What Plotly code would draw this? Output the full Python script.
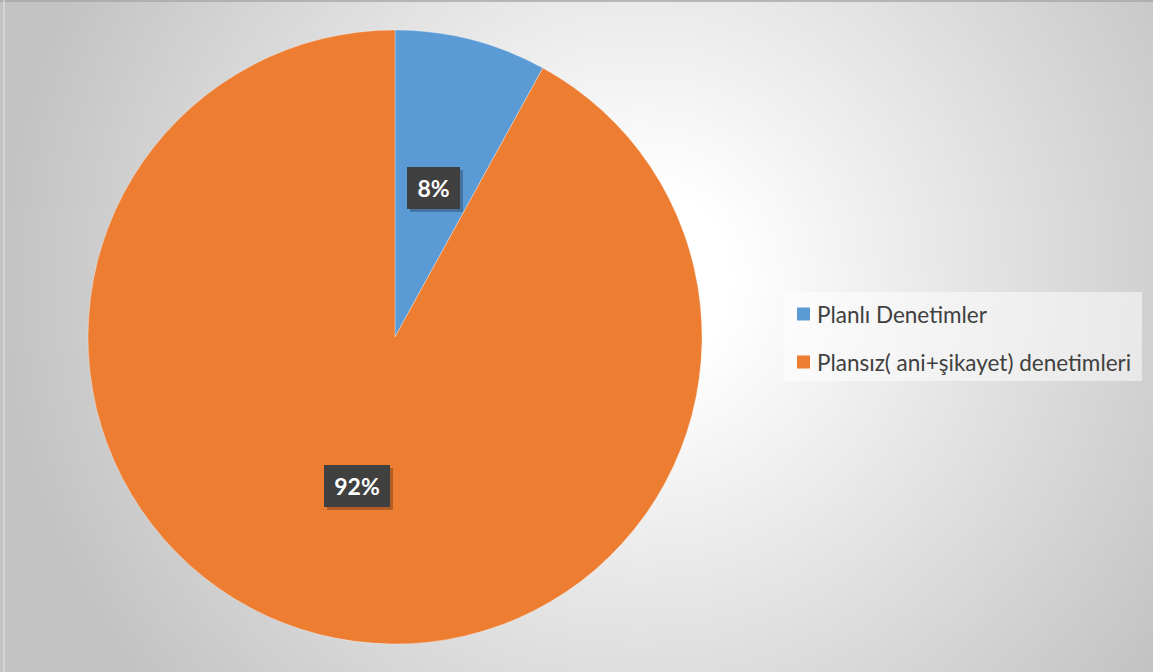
import numpy as np
import plotly.graph_objects as go

# --- data ---
categories = ["Planlı Denetimler", "Plansız( ani+şikayet) denetimleri"]
shares = [8, 92]
colors = ["#5B9BD5", "#ED7D31"]

W, H = 1153, 672

# pie geometry (pixels)
cx, cy, R = 395, 337, 307

fig = go.Figure()

# soft radial background wash
gx = np.linspace(0, W, 120)
gy = np.linspace(0, H, 72)
XX, YY = np.meshgrid(gx, gy)
dist = np.hypot(XX - 640, YY - 280)
shade = np.clip(255 - 0.11 * np.clip(dist - 90, 0, None), 195, 255)
fig.add_trace(go.Heatmap(
    x=gx, y=gy, z=shade, zmin=0, zmax=255, zsmooth="best",
    colorscale=[[0, "rgb(0,0,0)"], [1, "rgb(255,255,255)"]],
    showscale=False, hoverinfo="skip",
))

fig.add_trace(go.Pie(
    labels=categories,
    values=shares,
    sort=False,
    direction="clockwise",
    rotation=0,
    marker=dict(colors=colors, line=dict(color="rgba(255,255,255,0.6)", width=0.5)),
    textinfo="none",
    hoverinfo="label+percent",
    showlegend=False,
    domain=dict(x=[(cx - R) / W, (cx + R) / W], y=[1 - (cy + R) / H, 1 - (cy - R) / H]),
))

annotations = []
shapes = []

# percentage callouts at half radius along each slice's mid-angle
total = sum(shares)
cum = 0.0
for v in shares:
    frac = v / total
    mid = (cum + frac / 2) * 2 * np.pi
    cum += frac
    px = cx + 0.5 * R * np.sin(mid)
    py = cy - 0.5 * R * np.cos(mid)
    txt = f"{round(100 * frac)}%"
    bw = 53 if len(txt) <= 2 else 66
    common = dict(xref="paper", yref="paper", x=px / W, y=1 - py / H,
                  showarrow=False, width=bw, height=42, borderpad=0,
                  borderwidth=0, xanchor="center", yanchor="middle")
    annotations.append(dict(text="", bgcolor="rgba(0,0,0,0.25)",
                            xshift=3, yshift=-3, **common))
    annotations.append(dict(text=f"<b>{txt}</b>", bgcolor="#404040",
                            font=dict(family="Lato, Open Sans, sans-serif", size=23, color="white"),
                            **common))

# legend panel
lx0, lx1, ly0, ly1 = 784, 1142, 292, 381
shapes.append(dict(type="rect", xref="paper", yref="paper",
                   x0=lx0 / W, x1=lx1 / W, y0=1 - ly1 / H, y1=1 - ly0 / H,
                   fillcolor="rgba(255,255,255,0.5)", line=dict(width=0), layer="above"))
row_y = [314, 362]
for name, col, ry in zip(categories, colors, row_y):
    shapes.append(dict(type="rect", xref="paper", yref="paper",
                       x0=797 / W, x1=810 / W, y0=1 - (ry + 6.5) / H, y1=1 - (ry - 6.5) / H,
                       fillcolor=col, line=dict(width=0), layer="above"))
    annotations.append(dict(xref="paper", yref="paper", x=815 / W, y=1 - ry / H,
                            xanchor="left", yanchor="middle", showarrow=False,
                            text=name,
                            font=dict(family="Lato, Open Sans, sans-serif", size=22.5, color="#404040")))

# chart-area frame
shapes.append(dict(type="line", xref="paper", yref="paper", x0=0, x1=1,
                   y0=1 - 1 / H, y1=1 - 1 / H, line=dict(color="#a6a6a6", width=1.5)))
shapes.append(dict(type="line", xref="paper", yref="paper", x0=4 / W, x1=4 / W,
                   y0=0, y1=1, line=dict(color="#e8e8e8", width=1)))

fig.update_layout(
    width=W, height=H,
    margin=dict(l=0, r=0, t=0, b=0),
    paper_bgcolor="#d0d0d0",
    plot_bgcolor="rgba(0,0,0,0)",
    xaxis=dict(range=[0, W], domain=[0, 1], visible=False, fixedrange=True),
    yaxis=dict(range=[H, 0], domain=[0, 1], visible=False, fixedrange=True),
    annotations=annotations,
    shapes=shapes,
)

fig.write_html("out.html")
